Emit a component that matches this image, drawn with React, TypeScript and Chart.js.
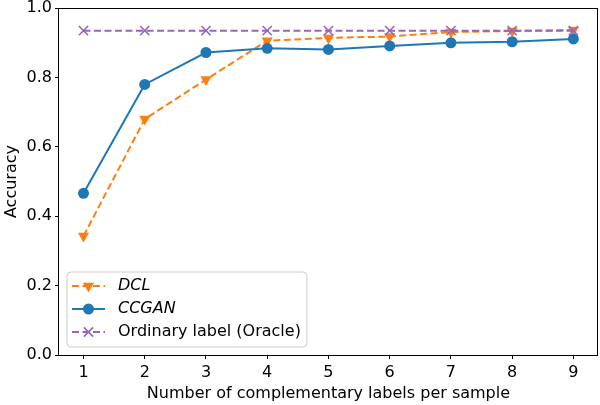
import React, { useEffect, useRef } from "react";
import { Chart, registerables } from "chart.js";

Chart.register(...registerables);

const categories = [1, 2, 3, 4, 5, 6, 7, 8, 9];
const dclValues = [0.343, 0.68, 0.794, 0.906, 0.914, 0.918, 0.931, 0.934, 0.937];
const ccganValues = [0.466, 0.78, 0.872, 0.884, 0.881, 0.891, 0.9, 0.903, 0.911];
const oracleValues = [0.935, 0.935, 0.935, 0.935, 0.935, 0.935, 0.935, 0.935, 0.935];
const seriesLabels = ["DCL", "CCGAN", "Ordinary label (Oracle)"];
const xTicks = [1, 2, 3, 4, 5, 6, 7, 8, 9];
const yTicks = [0, 0.2, 0.4, 0.6, 0.8, 1.0];
const xTitle = "Number of complementary labels per sample";
const yTitle = "Accuracy";

const FONT = "'DejaVu Sans', sans-serif";
const FS = 16;

const framePlugin = {
  id: "frameAndLegend",
  afterDatasetsDraw(chart: any) {
    const ctx = chart.ctx;
    const a = chart.chartArea;
    ctx.save();
    ctx.strokeStyle = "#000";
    ctx.lineWidth = 1;
    ctx.setLineDash([]);
    ctx.strokeRect(Math.round(a.left) - 0.5, Math.round(a.top) + 0.5, Math.round(a.right - a.left), Math.round(a.bottom - a.top));

    // legend
    const italic = [true, true, false];
    const ds = chart.data.datasets;
    let maxW = 0;
    ds.forEach((d: any, i: number) => {
      ctx.font = `${italic[i] ? "italic " : ""}${FS}px ${FONT}`;
      maxW = Math.max(maxW, ctx.measureText(d.label).width);
    });
    const boxL = a.left + 8;
    const boxB = a.bottom - 8;
    const rowH = 23;
    const boxH = 75;
    const boxT = boxB - boxH;
    const boxW = 51 + maxW + 6;
    const r = 4;
    ctx.beginPath();
    ctx.moveTo(boxL + r, boxT);
    ctx.lineTo(boxL + boxW - r, boxT);
    ctx.arcTo(boxL + boxW, boxT, boxL + boxW, boxT + r, r);
    ctx.lineTo(boxL + boxW, boxB - r);
    ctx.arcTo(boxL + boxW, boxB, boxL + boxW - r, boxB, r);
    ctx.lineTo(boxL + r, boxB);
    ctx.arcTo(boxL, boxB, boxL, boxB - r, r);
    ctx.lineTo(boxL, boxT + r);
    ctx.arcTo(boxL, boxT, boxL + r, boxT, r);
    ctx.closePath();
    ctx.fillStyle = "rgba(255,255,255,0.8)";
    ctx.fill();
    ctx.strokeStyle = "#cccccc";
    ctx.lineWidth = 1;
    ctx.stroke();

    ds.forEach((d: any, i: number) => {
      const y = boxT + 14 + i * rowH;
      const x0 = boxL + 5;
      const x1 = boxL + 38;
      ctx.strokeStyle = d.borderColor;
      ctx.lineWidth = d.borderWidth;
      ctx.setLineDash(d.borderDash || []);
      ctx.beginPath();
      ctx.moveTo(x0, y);
      ctx.lineTo(x1, y);
      ctx.stroke();
      ctx.setLineDash([]);
      const mx = (x0 + x1) / 2;
      ctx.fillStyle = d.pointBackgroundColor;
      ctx.strokeStyle = d.pointBorderColor;
      ctx.lineWidth = d.pointBorderWidth;
      const style = d.pointStyle;
      const rad = d.pointRadius;
      if (style === "circle") {
        ctx.beginPath();
        ctx.arc(mx, y, rad, 0, Math.PI * 2);
        ctx.fill();
      } else if (style === "triangle") {
        ctx.beginPath();
        for (let k = 0; k < 3; k++) {
          const ang = Math.PI + (k * 2 * Math.PI) / 3;
          const px = mx + Math.sin(ang) * rad;
          const py = y - Math.cos(ang) * rad;
          if (k === 0) ctx.moveTo(px, py);
          else ctx.lineTo(px, py);
        }
        ctx.closePath();
        ctx.fill();
      } else {
        const s = rad * Math.SQRT1_2;
        ctx.beginPath();
        ctx.moveTo(mx - s, y - s);
        ctx.lineTo(mx + s, y + s);
        ctx.moveTo(mx + s, y - s);
        ctx.lineTo(mx - s, y + s);
        ctx.stroke();
      }
      ctx.fillStyle = "#000";
      ctx.font = `${italic[i] ? "italic " : ""}${FS}px ${FONT}`;
      ctx.textAlign = "left";
      ctx.textBaseline = "middle";
      ctx.fillText(d.label, boxL + 51, y);
    });
    ctx.restore();
  },
};

export default function App() {
  const ref = useRef<HTMLCanvasElement>(null);
  useEffect(() => {
    if (!ref.current) return;
    const toPts = (vals: number[]) => categories.map((c, i) => ({ x: c, y: vals[i] }));
    const chart = new Chart(ref.current, {
      type: "line",
      data: {
        datasets: [
          {
            label: seriesLabels[0],
            data: toPts(dclValues),
            borderColor: "#ff7f0e",
            backgroundColor: "#ff7f0e",
            pointBackgroundColor: "#ff7f0e",
            pointBorderColor: "#ff7f0e",
            pointBorderWidth: 0,
            borderWidth: 2,
            borderDash: [7, 3.5],
            pointStyle: "triangle",
            pointRotation: 180,
            pointRadius: 6.5,
            order: 3,
            fill: false,
          } as any,
          {
            label: seriesLabels[1],
            data: toPts(ccganValues),
            borderColor: "#1f77b4",
            backgroundColor: "#1f77b4",
            pointBackgroundColor: "#1f77b4",
            pointBorderColor: "#1f77b4",
            pointBorderWidth: 0,
            borderWidth: 2,
            pointStyle: "circle",
            pointRadius: 5.5,
            order: 2,
            fill: false,
          },
          {
            label: seriesLabels[2],
            data: toPts(oracleValues),
            borderColor: "#9467bd",
            backgroundColor: "#9467bd",
            pointBackgroundColor: "#9467bd",
            pointBorderColor: "#9467bd",
            pointBorderWidth: 1.6,
            borderWidth: 2,
            borderDash: [7, 3.5],
            pointStyle: "crossRot",
            pointRadius: 6.5,
            order: 1,
            fill: false,
          },
        ],
      },
      options: {
        animation: false,
        responsive: false,
        layout: { padding: { top: 5, right: 2, left: 0, bottom: 0 } },
        plugins: { legend: { display: false }, tooltip: { enabled: false } },
        scales: {
          x: {
            type: "linear",
            min: 0.6,
            max: 9.4,
            afterBuildTicks: (s: any) => {
              s.ticks = xTicks.map((v) => ({ value: v }));
            },
            afterFit: (s: any) => {
              s.height = 50;
            },
            border: { display: false },
            grid: { drawOnChartArea: false, drawTicks: true, tickLength: 4, color: "#000", tickWidth: 1 },
            ticks: { color: "#000", font: { family: FONT, size: FS }, padding: 4, maxRotation: 0 },
            title: { display: true, text: xTitle, color: "#000", font: { family: FONT, size: FS }, padding: { top: 2, bottom: 2 } },
          },
          y: {
            type: "linear",
            min: 0,
            max: 1,
            afterBuildTicks: (s: any) => {
              s.ticks = yTicks.map((v) => ({ value: v }));
            },
            afterFit: (s: any) => {
              s.width = 59;
              s.paddingTop = 0;
              s.paddingBottom = 0;
            },
            border: { display: false },
            grid: { drawOnChartArea: false, drawTicks: true, tickLength: 4, color: "#000", tickWidth: 1 },
            ticks: { color: "#000", font: { family: FONT, size: FS }, padding: 3, callback: (v: any) => Number(v).toFixed(1) },
            title: { display: true, text: yTitle, color: "#000", font: { family: FONT, size: FS }, padding: { top: 2, bottom: 2 } },
          },
        },
      },
      plugins: [framePlugin],
    });
    return () => chart.destroy();
  }, []);
  return (
    <div style={{ position: "absolute", left: 0, top: 0, width: 600, height: 405, background: "#fff", overflow: "hidden" }}>
      <canvas ref={ref} width={606} height={405} style={{ display: "block" }} />
    </div>
  );
}
